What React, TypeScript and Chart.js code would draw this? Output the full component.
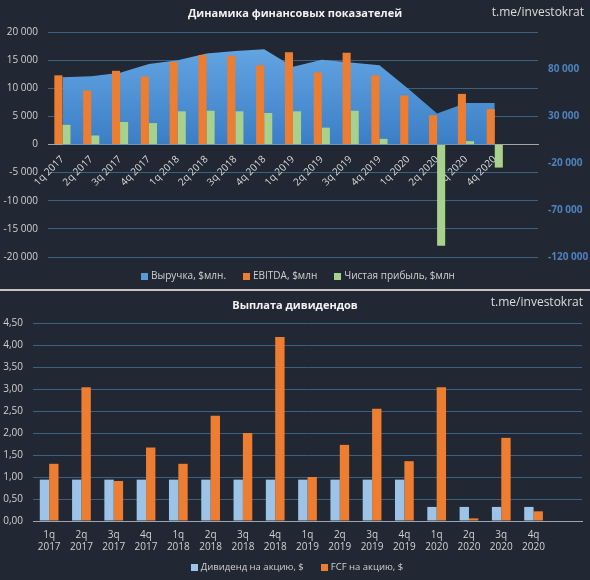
import React, { useEffect, useRef } from "react";
import { Chart, registerables } from "chart.js";

Chart.register(...registerables);

// ---------- data ----------
const quarterNames = ["1q", "2q", "3q", "4q", "1q", "2q", "3q", "4q", "1q", "2q", "3q", "4q", "1q", "2q", "3q", "4q"];
const quarterYears = ["2017", "2017", "2017", "2017", "2018", "2018", "2018", "2018", "2019", "2019", "2019", "2019", "2020", "2020", "2020", "2020"];

// top chart (revenue on the right axis, bars on the left axis)
const revenue = [71700, 72800, 76600, 85800, 89800, 97000, 99700, 101600, 83000, 90500, 87400, 84500, 59500, 33000, 44300, 44300];
const ebitda = [12300, 9600, 13100, 12100, 14700, 15900, 15800, 14100, 16400, 12800, 16300, 12300, 8700, 5200, 9000, 6300];
const netProfit = [3500, 1600, 4000, 3800, 5900, 6000, 5900, 5600, 5900, 3000, 6000, 1000, 0, -18000, 600, -4100];
const rightAxisTicks = [-120000, -70000, -20000, 30000, 80000];

// bottom chart
const dividendPerShare = [0.94, 0.94, 0.94, 0.94, 0.94, 0.94, 0.94, 0.94, 0.94, 0.94, 0.94, 0.94, 0.32, 0.32, 0.32, 0.32];
const fcfPerShare = [1.3, 3.04, 0.91, 1.67, 1.3, 2.39, 2.0, 4.18, 1.0, 1.73, 2.55, 1.36, 3.04, 0.06, 1.89, 0.22];

// ---------- styles ----------
const BG = "#212833";
const GRID = "#3d5f80";
const TEXT = "#d0d0d0";
const FONT = "'Open Sans', sans-serif";

Chart.defaults.font.family = FONT;

const fmtThousands = (v: number) => {
  const s = Math.abs(Math.round(v)).toString().replace(/\B(?=(\d{3})+(?!\d))/g, " ");
  return (v < 0 ? "-" : "") + s;
};

const decorPlugin = {
  id: "decor",
  afterDraw(chart: any, _args: any, opts: any) {
    const c = chart.ctx;
    c.save();
    c.textBaseline = "middle";
    c.fillStyle = "#f2f2f2";
    c.textAlign = "center";
    c.font = `bold 11px ${FONT}`;
    c.fillText(opts.title, opts.titleX, opts.titleY);
    c.font = `12px ${FONT}`;
    c.textAlign = "right";
    c.fillStyle = "#dcdcdc";
    c.fillText(opts.watermark, opts.wmX, opts.wmY);

    const items = chart.data.datasets.map((ds: any) => ({
      text: ds.label,
      color: ds.legendColor || ds.backgroundColor,
    }));
    c.font = `${opts.legendFontSize}px ${FONT}`;
    const box = 7;
    const gap = 3;
    const spacing = 17;
    const widths = items.map((it: any) => box + gap + c.measureText(it.text).width);
    const total = widths.reduce((a: number, b: number) => a + b, 0) + spacing * (items.length - 1);
    let x = opts.legendCenter - total / 2;
    c.textAlign = "left";
    items.forEach((it: any, i: number) => {
      c.fillStyle = it.color;
      c.fillRect(Math.round(x), Math.round(opts.legendY - box / 2), box, box);
      c.fillStyle = TEXT;
      c.fillText(it.text, x + box + gap, opts.legendY);
      x += widths[i] + spacing;
    });
    c.restore();
  },
};

function TopChart() {
  const ref = useRef<HTMLCanvasElement>(null);
  useEffect(() => {
    if (!ref.current) return;
    const labels = [...quarterNames.map((q, i) => `${q} ${quarterYears[i]}`), ""];
    const chart = new Chart(ref.current, {
      type: "bar",
      data: {
        labels,
        datasets: [
          {
            type: "line",
            label: "Выручка, $млн.",
            data: revenue,
            yAxisID: "y1",
            fill: "origin",
            backgroundColor: (ctx: any) => {
              const ch = ctx.chart;
              const area = ch.chartArea;
              if (!area || !ch.scales.y1) return "#5b9bd5";
              const y0 = ch.scales.y1.getPixelForValue(0);
              const g = ch.ctx.createLinearGradient(0, area.top, 0, y0);
              g.addColorStop(0, "#6aabe6");
              g.addColorStop(1, "#3b7ec6");
              return g;
            },
            borderWidth: 0,
            pointRadius: 0,
            pointHoverRadius: 0,
            tension: 0,
            order: 3,
            legendColor: "#5b9bd5",
          } as any,
          {
            type: "bar",
            label: "EBITDA, $млн",
            data: ebitda,
            yAxisID: "y",
            backgroundColor: "#ed7d31",
            categoryPercentage: 0.56,
            barPercentage: 1,
            order: 1,
          },
          {
            type: "bar",
            label: "Чистая прибыль, $млн",
            data: netProfit,
            yAxisID: "y",
            backgroundColor: "#a9d18e",
            categoryPercentage: 0.56,
            barPercentage: 1,
            order: 2,
          },
        ],
      },
      options: {
        animation: false,
        responsive: false,
        devicePixelRatio: 1,
        layout: { padding: { top: 32, bottom: 32, left: 0, right: 0 } },
        plugins: {
          legend: { display: false },
          tooltip: { enabled: false },
          decor: {
            title: "Динамика финансовых показателей",
            titleX: 295,
            titleY: 14,
            watermark: "t.me/investokrat",
            wmX: 584,
            wmY: 13,
            legendCenter: 298,
            legendY: 276,
            legendFontSize: 10,
          },
        } as any,
        scales: {
          x: {
            type: "category",
            position: { y: 0 } as any,
            offset: true,
            grid: { display: false, drawTicks: false },
            border: { display: true, color: "#a6a6a6", width: 1 },
            ticks: {
              autoSkip: false,
              maxRotation: 45,
              minRotation: 45,
              padding: 9,
              color: "#dadada",
              font: { size: 10 },
            },
          },
          y: {
            position: "left",
            min: -20000,
            max: 20000,
            ticks: {
              stepSize: 5000,
              padding: 10,
              color: TEXT,
              font: { size: 10 },
              callback: (v: any) => fmtThousands(Number(v)),
            },
            grid: {
              color: (ctx: any) => (ctx.tick && ctx.tick.value === 0 ? "#a6a6a6" : GRID),
              drawTicks: false,
            },
            border: { display: false },
            afterFit: (s: any) => {
              s.width = 48;
            },
          },
          y1: {
            position: "right",
            min: -120000,
            max: 120000,
            afterBuildTicks: (s: any) => {
              s.ticks = rightAxisTicks.map((v) => ({ value: v }));
            },
            ticks: {
              padding: 10,
              color: "#4f81bd",
              font: { size: 10, weight: "bold" },
              callback: (v: any) => fmtThousands(Number(v)),
            },
            grid: { display: false, drawTicks: false },
            border: { display: false },
            afterFit: (s: any) => {
              s.width = 52;
            },
          },
        },
      },
      plugins: [decorPlugin as any],
    });
    return () => chart.destroy();
  }, []);
  return <canvas ref={ref} width={590} height={289} style={{ display: "block", width: 590, height: 289 }} />;
}

function BottomChart() {
  const ref = useRef<HTMLCanvasElement>(null);
  useEffect(() => {
    if (!ref.current) return;
    const labels: any[] = [...quarterNames.map((q, i) => [q, quarterYears[i]]), ""];
    const chart = new Chart(ref.current, {
      type: "bar",
      data: {
        labels,
        datasets: [
          {
            label: "Дивиденд на акцию, $",
            data: dividendPerShare,
            backgroundColor: "#9dc3e6",
            categoryPercentage: 0.58,
            barPercentage: 1,
          },
          {
            label: "FCF на акцию, $",
            data: fcfPerShare,
            backgroundColor: "#ed7d31",
            categoryPercentage: 0.58,
            barPercentage: 1,
          },
        ],
      },
      options: {
        animation: false,
        responsive: false,
        devicePixelRatio: 1,
        layout: { padding: { top: 32, bottom: 0, left: 0, right: 8 } },
        plugins: {
          legend: { display: false },
          tooltip: { enabled: false },
          decor: {
            title: "Выплата дивидендов",
            titleX: 295,
            titleY: 15,
            watermark: "t.me/investokrat",
            wmX: 583,
            wmY: 12,
            legendCenter: 297,
            legendY: 276,
            legendFontSize: 9.5,
          },
        } as any,
        scales: {
          x: {
            type: "category",
            offset: true,
            grid: { display: false, drawTicks: false },
            border: { display: true, color: "#9aa6b4", width: 1 },
            ticks: {
              autoSkip: false,
              maxRotation: 0,
              minRotation: 0,
              padding: 8,
              color: TEXT,
              font: { size: 10 },
            },
            afterFit: (s: any) => {
              s.height = 59;
            },
          },
          y: {
            min: 0,
            max: 4.5,
            ticks: {
              stepSize: 0.5,
              padding: 10,
              color: TEXT,
              font: { size: 10 },
              callback: (v: any) => Number(v).toFixed(2).replace(".", ","),
            },
            grid: {
              color: (ctx: any) => (ctx.tick && ctx.tick.value === 0 ? "#9aa6b4" : GRID),
              drawTicks: false,
            },
            border: { display: false },
            afterFit: (s: any) => {
              s.width = 33;
            },
          },
        },
      },
      plugins: [decorPlugin as any],
    });
    return () => chart.destroy();
  }, []);
  return <canvas ref={ref} width={590} height={289} style={{ display: "block", width: 590, height: 289 }} />;
}

export default function App() {
  return (
    <div
      style={{
        position: "absolute",
        left: 0,
        top: 0,
        width: 590,
        height: 580,
        background: BG,
        overflow: "hidden",
      }}
    >
      <TopChart />
      <div style={{ height: 2, background: "#c4c4c4" }} />
      <BottomChart />
    </div>
  );
}
